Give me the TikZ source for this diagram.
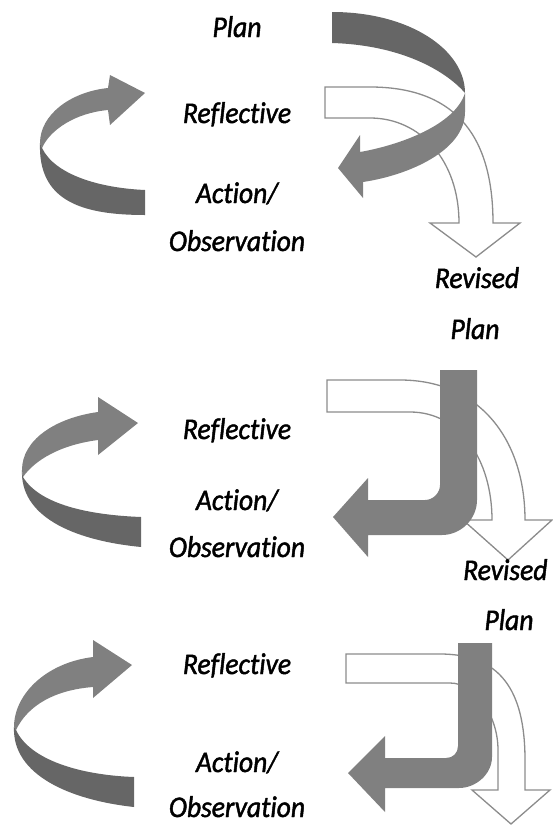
\documentclass[tikz,border=0pt]{standalone}
\usepackage{fontspec}
\setmainfont{Carlito}[FakeStretch=0.92, FakeBold=1.5, Ligatures=NoCommon]
\definecolor{darkband}{HTML}{666666}
\definecolor{midband}{HTML}{808080}
\definecolor{outl}{HTML}{8C8C8C}
\tikzset{
  lbl/.style={anchor=base, font=\fontsize{30}{36}\selectfont\itshape, inner sep=0pt, text=black},
  darkfill/.style={fill=darkband, draw=none},
  midfill/.style={fill=midband, draw=none},
  hollow/.style={fill=white, draw=outl, line width=1.3pt, line join=miter},
}
\begin{document}
\begin{tikzpicture}[x=1pt,y=-1pt]
\useasboundingbox (0,0) rectangle (553,825);

% ---------------- Panel 1 ----------------
% left circular arrow
\path[midfill] (108,88) .. controls (70,92) and (40,115) .. (40,143)
  -- (42,148) .. controls (50,130) and (75,113) .. (108,110)
  -- (110,125) -- (145,93) -- (110,75) -- cycle;
\path[darkfill] (40,143) .. controls (38,200) and (80,215) .. (145,215)
  -- (145,190) .. controls (100,188) and (55,175) .. (42,148) -- cycle;
% hollow revised arrow
\path[hollow] (325,87) -- (370,87) .. controls (450,87) and (493,130) .. (493,223)
  -- (520,223) -- (476,257) -- (430,223) -- (459,223)
  .. controls (459,160) and (420,118) .. (370,118) -- (325,118) -- cycle;
% spiral arrow
\path[darkfill] (332,12) .. controls (410,12) and (465,50) .. (465,93)
  .. controls (445,70) and (400,45) .. (332,43) -- cycle;
\path[midfill] (465,93) -- (465,112) .. controls (465,150) and (410,175) .. (363,182)
  -- (363,198) -- (338,168) -- (360,135) -- (360,152)
  .. controls (400,145) and (455,125) .. (465,93) -- cycle;
\node[lbl] (plan1) at (237,37) {Plan};
\node[lbl] (refl1) at (237,123) {Reflective};
\node[lbl] (act1) at (237,203) {Action/};
\node[lbl] (obs1) at (237,251) {Observation};
\node[lbl] (rev1) at (477,288) {Revised};
\node[lbl] (rplan1) at (475,339) {Plan};

% ---------------- Panel 2 ----------------
\path[midfill] (98,412) .. controls (55,418) and (22,440) .. (22,470)
  -- (23,477) .. controls (35,460) and (60,445) .. (98,440)
  -- (98,455) -- (138,423) -- (98,397) -- cycle;
\path[darkfill] (22,470) .. controls (20,515) and (70,540) .. (141,547)
  -- (141,517) .. controls (90,515) and (40,505) .. (23,477) -- cycle;
\path[hollow] (327,380) -- (400,380) .. controls (480,380) and (525,440) .. (525,520)
  -- (552,520) -- (508,560) -- (463,520) -- (492,520)
  .. controls (492,460) and (460,412) .. (410,412) -- (327,412) -- cycle;
\path[midfill] (440,370) -- (477,370) -- (477,500)
  .. controls (477,519) and (461,535) .. (442,535)
  -- (368,535) -- (368,557) -- (333,517) -- (368,478) -- (368,500) -- (425,500)
  .. controls (433,500) and (440,493) .. (440,485) -- cycle;
\node[lbl] (refl2) at (237,439) {Reflective};
\node[lbl] (act2) at (237,510) {Action/};
\node[lbl] (obs2) at (237,557) {Observation};
\node[lbl, anchor=base west] (rev2) at (463,580) {Revised};
\node[lbl] (rplan2) at (509,630) {Plan};

% ---------------- Panel 3 ----------------
\path[midfill] (93,657) .. controls (45,663) and (14,695) .. (14,727)
  -- (16,730) .. controls (28,705) and (55,690) .. (93,687)
  -- (93,698) -- (132,665) -- (93,640) -- cycle;
\path[darkfill] (14,727) .. controls (12,775) and (70,800) .. (134,807)
  -- (134,777) .. controls (80,775) and (30,760) .. (16,730) -- cycle;
\path[hollow] (346,654) -- (440,654) .. controls (500,654) and (525,690) .. (525,760)
  -- (525,790) -- (550,790) -- (511,824) -- (472,790) -- (498,790) -- (498,750)
  .. controls (498,715) and (475,683) .. (450,683) -- (346,683) -- cycle;
\path[midfill] (458,643) -- (492,643) -- (492,757)
  .. controls (492,774) and (476,788) .. (459,788)
  -- (385,788) -- (385,812) -- (348,773) -- (385,736) -- (385,758) -- (446,758)
  .. controls (453,758) and (458,753) .. (458,746) -- cycle;
\node[lbl] (refl3) at (237,674) {Reflective};
\node[lbl] (act3) at (237,772) {Action/};
\node[lbl] (obs3) at (237,817) {Observation};
\end{tikzpicture}
\end{document}
